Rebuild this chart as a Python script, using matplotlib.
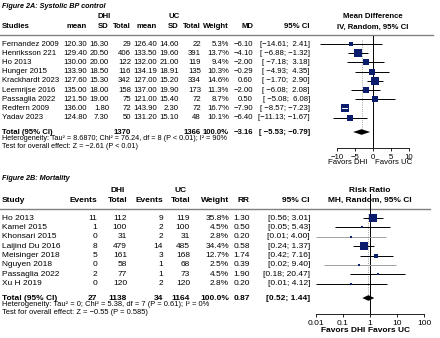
import numpy as np
import matplotlib
matplotlib.use('Agg')
import matplotlib.pyplot as plt

plt.rcParams['font.family'] = ['Liberation Sans', 'DejaVu Sans']

# ---- Figure 2A: Systolic BP control ----
studies_a = ['Fernandez 2009', 'Henriksson 221', 'Ho 2013', 'Hunger 2015', 'Krackhardt 2023',
             'Leemrijse 2016', 'Passaglia 2022', 'Redfern 2009', 'Yadav 2023']
dhi_mean = [120.30, 129.40, 130.00, 133.90, 127.60, 135.00, 121.50, 136.00, 124.80]
dhi_sd = [16.30, 20.50, 20.00, 18.50, 15.30, 18.00, 19.00, 1.80, 7.30]
dhi_n = [29, 406, 122, 116, 342, 158, 75, 72, 50]
uc_mean = [126.40, 133.50, 132.00, 134.19, 127.00, 137.00, 121.00, 143.90, 131.20]
uc_sd = [14.60, 19.60, 21.00, 18.91, 15.20, 19.90, 15.40, 2.30, 15.10]
uc_n = [22, 391, 119, 135, 334, 173, 72, 72, 48]
weight_a = [5.3, 13.7, 9.4, 10.3, 14.6, 11.3, 8.7, 16.7, 10.1]
md = [-6.10, -4.10, -2.00, -0.29, 0.60, -2.00, 0.50, -7.90, -6.40]
md_lo = [-14.61, -6.88, -7.18, -4.93, -1.70, -6.08, -5.08, -8.57, -11.13]
md_hi = [2.41, -1.32, 3.18, 4.35, 2.90, 2.08, 6.08, -7.23, -1.67]
total_a = {'dhi_n': 1370, 'uc_n': 1366, 'est': -3.16, 'lo': -5.53, 'hi': -0.79}
het_a = 'Heterogeneity: Tau\u00b2 = 8.6870; Chi\u00b2 = 76.24, df = 8 (P < 0.01); I\u00b2 = 90%'
test_a = 'Test for overall effect: Z = \u22122.61 (P < 0.01)'
ticks_a = [-10, -5, 0, 5, 10]

# ---- Figure 2B: Mortality ----
studies_b = ['Ho 2013', 'Kamel 2015', 'Khonsari 2015', 'Laijind Du 2016', 'Meisinger 2018',
             'Nguyen 2018', 'Passaglia 2022', 'Xu H 2019']
dhi_events = [11, 1, 0, 8, 5, 0, 2, 0]
dhi_total = [112, 100, 31, 479, 161, 58, 77, 120]
uc_events = [9, 2, 2, 14, 3, 1, 1, 2]
uc_total = [119, 100, 31, 485, 168, 68, 73, 120]
weight_b = [35.8, 4.5, 2.8, 34.4, 12.7, 2.5, 4.5, 2.8]
rr = [1.30, 0.50, 0.20, 0.58, 1.74, 0.39, 1.90, 0.20]
rr_lo = [0.56, 0.05, 0.01, 0.24, 0.42, 0.02, 0.18, 0.01]
rr_hi = [3.01, 5.43, 4.00, 1.37, 7.16, 9.40, 20.47, 4.12]
total_b = {'dhi_e': 27, 'dhi_n': 1138, 'uc_e': 34, 'uc_n': 1164, 'est': 0.87, 'lo': 0.52, 'hi': 1.44}
het_b = 'Heterogeneity: Tau\u00b2 = 0; Chi\u00b2 = 5.38, df = 7 (P = 0.61); I\u00b2 = 0%'
test_b = 'Test for overall effect: Z = \u22120.55 (P = 0.585)'
ticks_b = [0.01, 0.1, 1, 10, 100]
tick_labels_b = ['0.01', '0.1', '1', '10', '100']

W, H = 440, 338
FS_A = 5.6
FS_B = 6.0
SMALL = 5.2
SQ = '#0c1c6c'
GREY_CI = {'Khonsari 2015', 'Nguyen 2018'}

fig = plt.figure(figsize=(W / 100, H / 100), dpi=100)
tax = fig.add_axes([0, 0, 1, 1])
tax.set_xlim(0, W)
tax.set_ylim(H, 0)
tax.axis('off')


def put(x, y, s, ha='left', bold=False, size=FS_A, **kw):
    tax.text(x, y, s, ha=ha, va='center', fontsize=size,
             fontweight='bold' if bold else 'normal', **kw)


def fmt(v, d=2):
    return f'{v:.{d}f}'.replace('-', '\u2212')


def ci_strings(lo, hi, d=2):
    los = [fmt(v, d) for v in lo]
    his = [fmt(v, d) for v in hi]
    wl = max(len(s) for s in los)
    wh = max(len(s) for s in his)
    return ['[' + a.rjust(wl) + '; ' + b.rjust(wh) + ']' for a, b in zip(los, his)]


def forest_axes(x0, x1, y0, y1, fs):
    ax = fig.add_axes([x0 / W, 1 - y1 / H, (x1 - x0) / W, (y1 - y0) / H])
    ax.set_ylim(y1, y0)
    ax.patch.set_visible(False)
    for s in ['top', 'right', 'left']:
        ax.spines[s].set_visible(False)
    ax.spines['bottom'].set_linewidth(0.6)
    ax.set_yticks([])
    ax.tick_params(axis='x', length=2.5, width=0.6, labelsize=fs, pad=1.5)
    ax.minorticks_off()
    return ax


def draw_forest(ax, ys, est, lo, hi, wts, names, tot, y_tot, null, y_top, scale):
    wmax = max(wts)
    for y, e, l, h, w, n in zip(ys, est, lo, hi, wts, names):
        side = 8 * np.sqrt(w / wmax)
        col = '#a0a0a0' if n in GREY_CI else 'black'
        ax.plot([l, h], [y, y], color=col, lw=0.7, zorder=2, solid_capstyle='butt')
        ax.plot([e], [y], marker='s', ms=max(side, 2) * 0.72, color=SQ, mec=SQ, mew=0, zorder=3)
        if scale(h) - scale(l) < side:
            ax.plot([l, h], [y, y], color='white', lw=0.7, zorder=4)
    ax.plot([null, null], [y_top, ax.get_ylim()[0]], color='black', lw=0.7, zorder=1)
    ax.plot([tot['est'], tot['est']], [ys[0] - 4, y_tot], color='#888888', lw=0.6, ls=':', zorder=1)
    ax.fill([tot['lo'], tot['est'], tot['hi'], tot['est']],
            [y_tot, y_tot - 2.8, y_tot, y_tot + 2.8], color='black', lw=0, zorder=3)


# ================= Panel A =================
ROW0_A, DY_A = 44, 9.2
ys_a = [ROW0_A + DY_A * i for i in range(len(studies_a))]
y_tot_a = 132

put(2, 6, 'Figure 2A: Systolic BP control', bold=True, size=5.2, style='italic',
    family=['Liberation Sans Narrow', 'Liberation Sans'])
put(104, 17, 'DHI', ha='center', bold=True)
put(174, 17, 'UC', ha='center', bold=True)
put(373, 17, 'Mean Difference', ha='center', bold=True)
for x, s, ha in [(2, 'Studies', 'left'), (87, 'mean', 'right'), (109, 'SD', 'right'),
                 (131, 'Total', 'right'), (157, 'mean', 'right'), (179, 'SD', 'right'),
                 (201, 'Total', 'right'), (229, 'Weight', 'right'), (253, 'MD', 'right'),
                 (310, '95% CI', 'right')]:
    put(x, 27, s, ha=ha, bold=True)
put(373, 27, 'IV, Random, 95% CI', ha='center', bold=True)
tax.plot([0, 433], [35, 35], color='#808080', lw=1)

cis_a = ci_strings(md_lo + [total_a['lo']], md_hi + [total_a['hi']])
for i, y in enumerate(ys_a):
    put(2, y, studies_a[i])
    put(87, y, fmt(dhi_mean[i]), ha='right')
    put(109, y, fmt(dhi_sd[i]), ha='right')
    put(131, y, str(dhi_n[i]), ha='right')
    put(157, y, fmt(uc_mean[i]), ha='right')
    put(179, y, fmt(uc_sd[i]), ha='right')
    put(201, y, str(uc_n[i]), ha='right')
    put(229, y, fmt(weight_a[i], 1) + '%', ha='right')
    put(253, y, fmt(md[i]), ha='right')
    put(310, y, cis_a[i], ha='right')

put(2, y_tot_a, 'Total (95% CI)', bold=True)
put(131, y_tot_a, str(total_a['dhi_n']), ha='right', bold=True)
put(201, y_tot_a, str(total_a['uc_n']), ha='right', bold=True)
put(229, y_tot_a, '100.0%', ha='right', bold=True)
put(253, y_tot_a, fmt(total_a['est']), ha='right', bold=True)
put(310, y_tot_a, cis_a[-1], ha='right', bold=True)
put(2, 139, het_a, size=SMALL)
put(2, 146, test_a, size=SMALL)

pxu = 3.6
axA = forest_axes(373 - 16 * pxu, 373 + 16 * pxu, 35, 148, FS_A)
axA.set_xlim(-16, 16)
axA.spines['bottom'].set_bounds(ticks_a[0], ticks_a[-1])
axA.set_xticks(ticks_a)
axA.set_xticklabels([str(t).replace('-', '\u2212') for t in ticks_a])
draw_forest(axA, ys_a, md, md_lo, md_hi, weight_a, studies_a, total_a, y_tot_a, 0, 36,
            lambda v: v * pxu)
put(348, 163, 'Favors DHI', ha='center')
put(394, 163, 'Favors UC', ha='center')

# ================= Panel B =================
ROW0_B, DY_B = 218, 9.4
ys_b = [ROW0_B + DY_B * i for i in range(len(studies_b))]
y_tot_b = 298

put(2, 178, 'Figure 2B: Mortality', bold=True, size=5.2, style='italic',
    family=['Liberation Sans Narrow', 'Liberation Sans'])
put(118, 190, 'DHI', ha='center', bold=True, size=FS_B)
put(181, 190, 'UC', ha='center', bold=True, size=FS_B)
put(370, 190, 'Risk Ratio', ha='center', bold=True, size=FS_B)
for x, s, ha in [(2, 'Study', 'left'), (97, 'Events', 'right'), (127, 'Total', 'right'),
                 (163, 'Events', 'right'), (190, 'Total', 'right'), (229, 'Weight', 'right'),
                 (250, 'RR', 'right'), (310, '95% CI', 'right')]:
    put(x, 200, s, ha=ha, bold=True, size=FS_B)
put(370, 200, 'MH, Random, 95% CI', ha='center', bold=True, size=FS_B)
tax.plot([0, 430], [209, 209], color='#808080', lw=1)

cis_b = ['[' + fmt(a) + '; ' + fmt(b) + ']' for a, b in
         zip(rr_lo + [total_b['lo']], rr_hi + [total_b['hi']])]
for i, y in enumerate(ys_b):
    put(2, y, studies_b[i], size=FS_B)
    put(97, y, str(dhi_events[i]), ha='right', size=FS_B)
    put(127, y, str(dhi_total[i]), ha='right', size=FS_B)
    put(163, y, str(uc_events[i]), ha='right', size=FS_B)
    put(190, y, str(uc_total[i]), ha='right', size=FS_B)
    put(229, y, fmt(weight_b[i], 1) + '%', ha='right', size=FS_B)
    put(250, y, fmt(rr[i]), ha='right', size=FS_B)
    put(310, y, cis_b[i], ha='right', size=FS_B)

put(2, y_tot_b, 'Total (95% CI)', bold=True, size=FS_B)
put(97, y_tot_b, str(total_b['dhi_e']), ha='right', bold=True, size=FS_B)
put(127, y_tot_b, str(total_b['dhi_n']), ha='right', bold=True, size=FS_B)
put(163, y_tot_b, str(total_b['uc_e']), ha='right', bold=True, size=FS_B)
put(190, y_tot_b, str(total_b['uc_n']), ha='right', bold=True, size=FS_B)
put(229, y_tot_b, '100.0%', ha='right', bold=True, size=FS_B)
put(250, y_tot_b, fmt(total_b['est']), ha='right', bold=True, size=FS_B)
put(310, y_tot_b, cis_b[-1], ha='right', bold=True, size=FS_B)
put(2, 305, het_b, size=5.4)
put(2, 312, test_b, size=5.4)

pxd = 27
axB = forest_axes(310, 430, 194, 314, FS_B)
axB.set_xscale('log')
axB.set_xlim(10 ** ((310 - 370) / pxd), 10 ** ((430 - 370) / pxd))
axB.spines['bottom'].set_bounds(ticks_b[0], ticks_b[-1])
axB.set_xticks(ticks_b)
axB.set_xticklabels(tick_labels_b)
axB.minorticks_off()
draw_forest(axB, ys_b, rr, rr_lo, rr_hi, weight_b, studies_b, total_b, y_tot_b, 1, 194,
            lambda v: np.log10(v) * pxd)
put(343, 330, 'Favors DHI', ha='center', bold=True, size=FS_B)
put(389, 330, 'Favors UC', ha='center', bold=True, size=FS_B)

fig.savefig('out.png', dpi=100)
